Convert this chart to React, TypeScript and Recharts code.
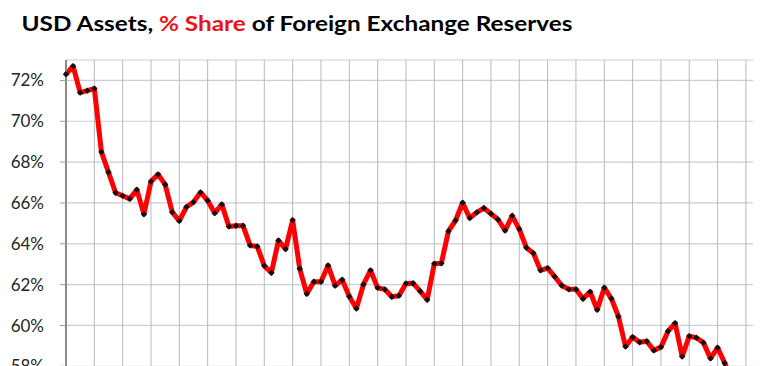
import { LineChart, Line, XAxis, YAxis, CartesianGrid, ReferenceLine } from "recharts";

// quarterly, 1999 Q1 .. 2023 Q2
const years = [
  1999, 2000, 2001, 2002, 2003, 2004, 2005, 2006, 2007, 2008, 2009, 2010,
  2011, 2012, 2013, 2014, 2015, 2016, 2017, 2018, 2019, 2020, 2021, 2022, 2023,
];
const quarterNames = ["Q1", "Q2", "Q3", "Q4"];

const usdShare = [
  72.3, 72.7, 71.4, 71.5, 71.6, 68.5, 67.5, 66.5, 66.35, 66.2,
  66.65, 65.45, 67.05, 67.4, 66.9, 65.55, 65.12, 65.8, 66.04, 66.52,
  66.12, 65.5, 65.93, 64.85, 64.88, 64.88, 63.92, 63.87, 62.92, 62.58,
  64.16, 63.74, 65.16, 62.78, 61.55, 62.14, 62.14, 62.94, 61.95, 62.24,
  61.42, 60.83, 62.01, 62.7, 61.85, 61.77, 61.41, 61.46, 62.06, 62.07,
  61.68, 61.26, 63.02, 63.05, 64.62, 65.14, 66.01, 65.26, 65.54, 65.75,
  65.47, 65.19, 64.65, 65.37, 64.72, 63.81, 63.54, 62.7, 62.81, 62.39,
  61.96, 61.77, 61.77, 61.31, 61.65, 60.77, 61.85, 61.32, 60.44, 58.97,
  59.43, 59.18, 59.23, 58.78, 58.94, 59.72, 60.11, 58.48, 59.48, 59.4,
  59.16, 58.39, 58.91, 58.16, 57.3, 57.6, 57.1, 56.8,
];

const yTicks = [56, 58, 60, 62, 64, 66, 68, 70, 72];
// first quarter of each year gets a vertical gridline
const yearStarts = [4, 8, 12, 16, 20, 24, 28, 32, 36, 40, 44, 48, 52, 56, 60, 64, 68, 72, 76, 80, 84, 88, 92, 96];

const periods = years.flatMap((y) => quarterNames.map((q) => `${y} ${q}`));
const data = usdShare.map((v, i) => ({ idx: i, period: periods[i], share: v }));

const Diamond = (props: any) => {
  const { cx, cy, index } = props;
  if (cx == null || cy == null) return <g key={`d${index}`} />;
  const r = 3.2;
  return (
    <path
      key={`d${index}`}
      d={`M${cx},${cy - r}L${cx + r},${cy}L${cx},${cy + r}L${cx - r},${cy}Z`}
      fill="#111"
    />
  );
};

export default function App() {
  return (
    <div style={{ position: "absolute", left: 0, top: 0, width: 768, height: 366, overflow: "hidden", background: "#fff" }}>
      <svg width={768} height={40} style={{ position: "absolute", left: 0, top: 0 }}>
        <text
          x={21.5}
          y={31}
          fontFamily="Lato, 'Open Sans', sans-serif"
          fontWeight="bold"
          fontSize={20}
          textLength={551}
          lengthAdjust="spacingAndGlyphs"
          fill="#000"
        >
          <tspan>USD Assets, </tspan>
          <tspan fill="#e8141c">% Share</tspan>
          <tspan> of Foreign Exchange Reserves</tspan>
        </text>
      </svg>
      <div style={{ position: "absolute", left: 0, top: 0 }}>
        <LineChart
          width={768}
          height={460}
          data={data}
          margin={{ top: 60, right: 15, bottom: 12, left: 0 }}
        >
          <CartesianGrid vertical={false} stroke="#c8cde0" strokeWidth={1.2} />
          <XAxis
            dataKey="idx"
            type="number"
            domain={[0, 97]}
            height={0}
            tick={false}
            tickLine={false}
            axisLine={false}
          />
          <YAxis
            domain={[54, 73]}
            ticks={yTicks}
            width={66}
            tickFormatter={(v) => `${v}%`}
            tick={{ fill: "#262626", fontSize: 17, fontFamily: "Lato, 'Open Sans', sans-serif" }}
            tickSize={6}
            tickMargin={16}
            tickLine={{ stroke: "#9a9a9a" }}
            axisLine={{ stroke: "#8a8a8a", strokeWidth: 2 }}
          />
          {yearStarts.map((t) => (
            <ReferenceLine key={t} x={t} stroke="#b9b9b9" strokeWidth={1} />
          ))}
          <Line
            type="linear"
            dataKey="share"
            stroke="#ff0000"
            strokeWidth={5}
            strokeLinejoin="round"
            dot={Diamond}
            activeDot={false}
            isAnimationActive={false}
          />
        </LineChart>
      </div>
    </div>
  );
}
